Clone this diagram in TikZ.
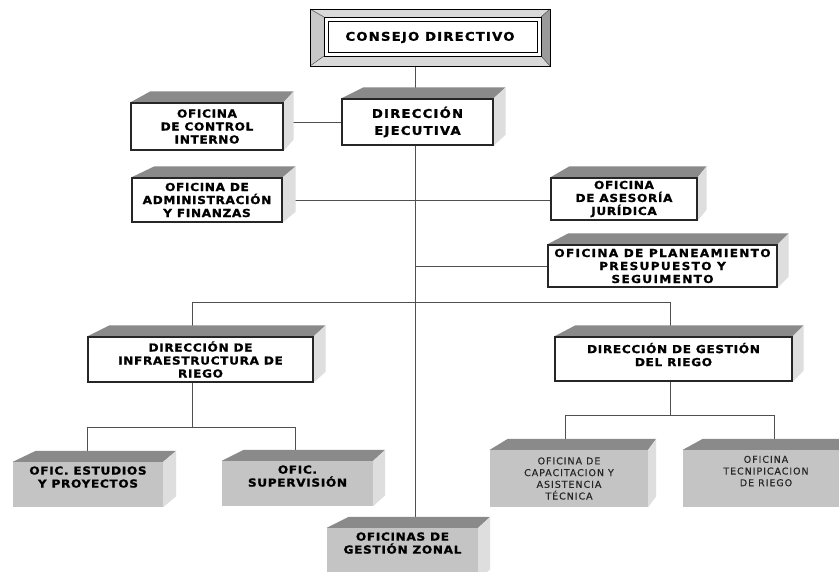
\documentclass[tikz,border=0pt]{standalone}
\usepackage{fontspec}
\usetikzlibrary{calc}
\newfontfamily\famA{DejaVu Sans}[LetterSpace=6,FakeStretch=1.1,FakeBold=1.2]
\newfontfamily\famB{DejaVu Sans}[LetterSpace=10,FakeStretch=1.1,FakeBold=1.4]
\newfontfamily\famC{DejaVu Sans}[LetterSpace=12,FakeStretch=1.1,FakeBold=1.2]
\newfontfamily\famR{DejaVu Sans}[LetterSpace=10,FakeBold=0.4]
\definecolor{frontgray}{HTML}{C4C4C4}
\definecolor{topgray}{HTML}{8A8A8A}
\definecolor{sidegray}{HTML}{DEDEDE}
\definecolor{bevlight}{HTML}{D9D9D9}
\definecolor{bevdark}{HTML}{9A9A9A}
\definecolor{linegray}{HTML}{505050}
\pgfdeclarelayer{conn}
\pgfdeclarelayer{faces}
\pgfsetlayers{conn,faces,main}
\tikzset{
  wbox/.style={draw=black!85, line width=1.3pt, fill=white, inner sep=0pt, align=center, text=black,
    font=\famA\bfseries\fontsize{11}{13}\selectfont},
  gbox/.style={fill=frontgray, draw=none, inner sep=0pt, align=center, text=black,
    font=\famA\bfseries\fontsize{11}{13}\selectfont},
  rbox/.style={fill=frontgray, draw=none, inner sep=0pt, align=center, text=black!85,
    font=\famR\fontsize{9.5}{11.7}\selectfont},
  conn/.style={draw=linegray, line width=0.7pt},
  topface/.style={fill=topgray},
  sideface/.style={fill=sidegray},
}
\newcommand\cubebox[8]{%
  \node[#1, minimum width={#5-#3}, minimum height={#6-#4}] (#2) at ({(#3+#5)/2},{(#4+#6)/2}) {#8};
  \begin{pgfonlayer}{faces}
    \fill[topface] (#2.north west) -- ++({#7+10},-11) -- ($(#2.north east)+(#7,-11)$) -- (#2.north east) -- cycle;
    \fill[sideface] (#2.north east) -- ++(#7,-11) -- ($(#2.south east)+(#7,-11)$) -- (#2.south east) -- cycle;
  \end{pgfonlayer}}
\begin{document}
\begin{tikzpicture}[x=1pt,y=-1pt]
\useasboundingbox (0,0) rectangle (839,571);
\begin{pgfonlayer}{conn}
  \fill[white] (0,0) rectangle (839,571);
\end{pgfonlayer}

% Consejo Directivo
\begin{pgfonlayer}{faces}
  \fill[bevlight] (310,9) -- (550,9) -- (541,17) -- (324,17) -- cycle;
  \fill[bevlight!92!black] (310,9) -- (324,17) -- (324,56) -- (310,66) -- cycle;
  \fill[bevdark] (550,9) -- (550,66) -- (541,56) -- (541,17) -- cycle;
  \fill[bevlight] (310,66) -- (550,66) -- (541,56) -- (324,56) -- cycle;
  \draw[black!70, line width=0.5pt] (310,9) -- (324,17) (550,9) -- (541,17) (310,66) -- (324,56) (550,66) -- (541,56);
  \draw[black, line width=0.9pt] (310,9) rectangle (550,66);
  \draw[black, line width=0.9pt, fill=white] (324,17) rectangle (541,56);
  \draw[black, line width=0.6pt] (328,21) rectangle (537,52);
\end{pgfonlayer}
\node[minimum width=240, minimum height=57, inner sep=0pt,
  font=\famB\bfseries\fontsize{12}{14}\selectfont] (cd) at (430,37.5) {CONSEJO DIRECTIVO};

% boxes
\cubebox{wbox, font=\famB\bfseries\fontsize{12}{17}\selectfont}{de}{342}{99}{493}{145}{12}{DIRECCIÓN\\EJECUTIVA}
\cubebox{wbox}{ci}{131}{103}{283}{150}{10}{OFICINA\\DE CONTROL\\INTERNO}
\cubebox{wbox}{adm}{132}{178}{282}{222}{13}{OFICINA DE\\ADMINISTRACIÓN\\Y FINANZAS}
\cubebox{wbox}{aj}{551}{178}{697}{220}{9}{OFICINA\\DE ASESORÍA\\JURÍDICA}
\cubebox{wbox, font=\famC\bfseries\fontsize{11}{13}\selectfont}{pl}{548}{245}{777}{287}{11}{OFICINA DE PLANEAMIENTO\\PRESUPUESTO Y\\SEGUIMENTO}
\cubebox{wbox}{di}{88}{337}{313}{382}{12}{DIRECCIÓN DE\\INFRAESTRUCTURA DE\\RIEGO}
\cubebox{wbox, text depth=9pt}{dg}{555}{337}{792}{381}{11}{DIRECCIÓN DE GESTIÓN\\DEL RIEGO}
\cubebox{gbox, text depth=15pt}{es}{13}{462}{163}{507}{13}{OFIC. ESTUDIOS\\Y PROYECTOS}
\cubebox{gbox, text depth=15pt}{su}{222}{461}{373}{506}{12}{OFIC.\\SUPERVISIÓN}
\cubebox{rbox}{ca}{490}{450}{648}{507}{8}{OFICINA DE\\CAPACITACION Y\\ASISTENCIA\\TÉCNICA}
\cubebox{rbox, text depth=15pt}{te}{683}{450}{849}{507}{10}{OFICINA\\TECNIPICACION\\DE RIEGO}
\cubebox{gbox, text depth=22pt}{gz}{327}{528}{478}{580}{12}{OFICINAS DE\\GESTIÓN ZONAL}

% connectors
\coordinate (t) at (415,0);
\coordinate (bl) at (192,302);
\coordinate (br) at (670,302);
\coordinate (dm) at (192,427);
\coordinate (dl) at (87,427);
\coordinate (dr) at (295,427);
\coordinate (gm) at (670,415);
\coordinate (gl) at (565,415);
\coordinate (gr) at (774,415);
\begin{pgfonlayer}{conn}
  \draw[conn] (t |- cd.south) -- (t |- gz.north);
  \draw[conn] (de.west) -- (de.west -| ci.east);
  \draw[conn] (adm.east) -- (adm.east -| aj.west);
  \draw[conn] (t |- pl.west) -- (pl.west);
  \draw[conn] (bl) -- (br);
  \draw[conn] (bl) -- (bl |- di.north);
  \draw[conn] (br) -- (br |- dg.north);
  \draw[conn] (bl |- di.south) -- (dm);
  \draw[conn] (dl) -- (dr);
  \draw[conn] (dl) -- (dl |- es.north);
  \draw[conn] (dr) -- (dr |- su.north);
  \draw[conn] (br |- dg.south) -- (gm);
  \draw[conn] (gl) -- (gr);
  \draw[conn] (gl) -- (gl |- ca.north);
  \draw[conn] (gr) -- (gr |- te.north);
\end{pgfonlayer}
\end{tikzpicture}
\end{document}
